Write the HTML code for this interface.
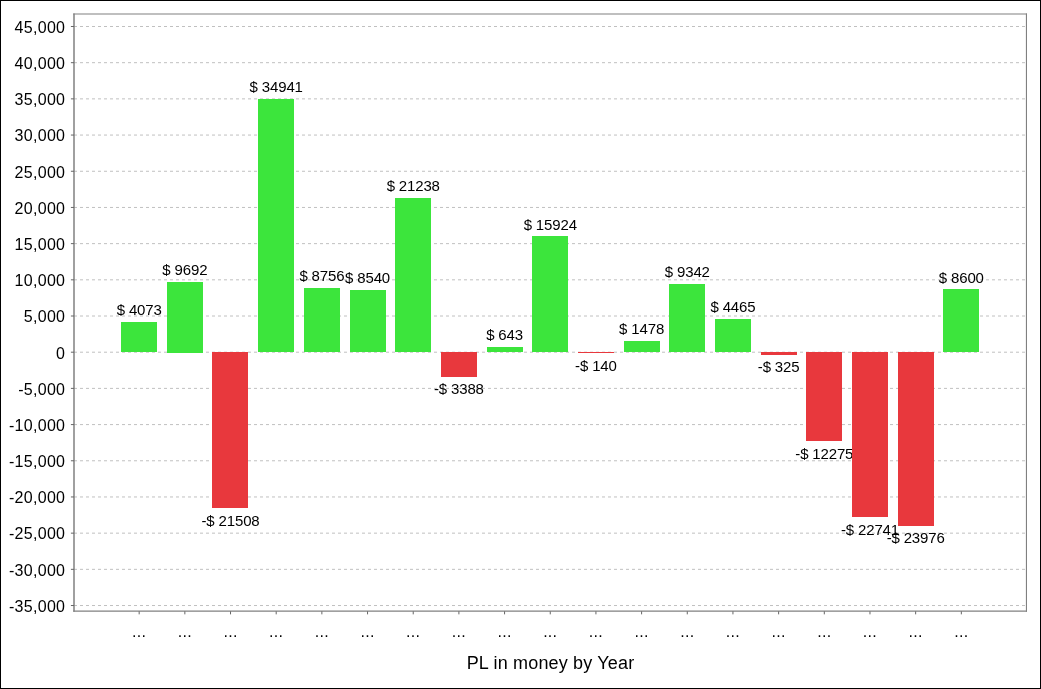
<!DOCTYPE html>
<html><head><meta charset="utf-8"><title>PL in money by Year</title>
<style>
html,body{margin:0;padding:0;background:#fff;}
body{width:1041px;height:689px;overflow:hidden;}
svg{display:block;font-family:"Liberation Sans",sans-serif;fill:#000;}
.yl{font-size:16px;text-anchor:end;letter-spacing:0.3px;}
.xl{font-size:16px;text-anchor:middle;letter-spacing:0.3px;}
.vl{font-size:15px;text-anchor:middle;letter-spacing:-0.15px;}
.tt{font-size:18px;text-anchor:middle;letter-spacing:0.17px;}
</style></head><body>
<svg width="1041" height="689" viewBox="0 0 1041 689">
<rect x="0" y="0" width="1041" height="689" fill="#fff"/>

<g stroke="#c0c0c0" stroke-width="1" stroke-dasharray="3,3" fill="none">
<line x1="74.0" y1="605.53" x2="1026.35" y2="605.53"/>
<line x1="74.0" y1="569.34" x2="1026.35" y2="569.34"/>
<line x1="74.0" y1="533.15" x2="1026.35" y2="533.15"/>
<line x1="74.0" y1="496.96" x2="1026.35" y2="496.96"/>
<line x1="74.0" y1="460.77" x2="1026.35" y2="460.77"/>
<line x1="74.0" y1="424.58" x2="1026.35" y2="424.58"/>
<line x1="74.0" y1="388.39" x2="1026.35" y2="388.39"/>
<line x1="74.0" y1="352.20" x2="1026.35" y2="352.20"/>
<line x1="74.0" y1="316.01" x2="1026.35" y2="316.01"/>
<line x1="74.0" y1="279.82" x2="1026.35" y2="279.82"/>
<line x1="74.0" y1="243.63" x2="1026.35" y2="243.63"/>
<line x1="74.0" y1="207.44" x2="1026.35" y2="207.44"/>
<line x1="74.0" y1="171.25" x2="1026.35" y2="171.25"/>
<line x1="74.0" y1="135.06" x2="1026.35" y2="135.06"/>
<line x1="74.0" y1="98.87" x2="1026.35" y2="98.87"/>
<line x1="74.0" y1="62.68" x2="1026.35" y2="62.68"/>
<line x1="74.0" y1="26.49" x2="1026.35" y2="26.49"/>
</g>
<rect shape-rendering="crispEdges" x="121" y="322" width="36" height="30" fill="#3ce53c"/>
<text class="vl" x="139.17" y="315.32">$ 4073</text>
<rect shape-rendering="crispEdges" x="167" y="282" width="36" height="71" fill="#3ce53c"/>
<text class="vl" x="184.85" y="274.65">$ 9692</text>
<rect shape-rendering="crispEdges" x="212" y="352" width="36" height="156" fill="#e8383d"/>
<text class="vl" x="230.52" y="525.57">-$ 21508</text>
<rect shape-rendering="crispEdges" x="258" y="99" width="36" height="253" fill="#3ce53c"/>
<text class="vl" x="276.20" y="91.90">$ 34941</text>
<rect shape-rendering="crispEdges" x="304" y="288" width="36" height="64" fill="#3ce53c"/>
<text class="vl" x="321.87" y="281.42">$ 8756</text>
<rect shape-rendering="crispEdges" x="350" y="290" width="36" height="62" fill="#3ce53c"/>
<text class="vl" x="367.55" y="282.99">$ 8540</text>
<rect shape-rendering="crispEdges" x="395" y="198" width="36" height="154" fill="#3ce53c"/>
<text class="vl" x="413.22" y="191.08">$ 21238</text>
<rect shape-rendering="crispEdges" x="441" y="352" width="36" height="25" fill="#e8383d"/>
<text class="vl" x="458.90" y="394.42">-$ 3388</text>
<rect shape-rendering="crispEdges" x="487" y="347" width="36" height="5" fill="#3ce53c"/>
<text class="vl" x="504.57" y="340.15">$ 643</text>
<rect shape-rendering="crispEdges" x="532" y="236" width="36" height="116" fill="#3ce53c"/>
<text class="vl" x="550.25" y="229.54">$ 15924</text>
<rect shape-rendering="crispEdges" x="578" y="352" width="36" height="1" fill="#e8383d"/>
<text class="vl" x="595.93" y="370.91">-$ 140</text>
<rect shape-rendering="crispEdges" x="624" y="341" width="36" height="11" fill="#3ce53c"/>
<text class="vl" x="641.60" y="334.10">$ 1478</text>
<rect shape-rendering="crispEdges" x="669" y="284" width="36" height="68" fill="#3ce53c"/>
<text class="vl" x="687.28" y="277.18">$ 9342</text>
<rect shape-rendering="crispEdges" x="715" y="319" width="36" height="33" fill="#3ce53c"/>
<text class="vl" x="732.95" y="312.48">$ 4465</text>
<rect shape-rendering="crispEdges" x="761" y="352" width="36" height="3" fill="#e8383d"/>
<text class="vl" x="778.63" y="372.25">-$ 325</text>
<rect shape-rendering="crispEdges" x="806" y="352" width="36" height="89" fill="#e8383d"/>
<text class="vl" x="824.30" y="458.75">-$ 12275</text>
<rect shape-rendering="crispEdges" x="852" y="352" width="36" height="165" fill="#e8383d"/>
<text class="vl" x="869.98" y="534.50">-$ 22741</text>
<rect shape-rendering="crispEdges" x="898" y="352" width="36" height="174" fill="#e8383d"/>
<text class="vl" x="915.65" y="543.44">-$ 23976</text>
<rect shape-rendering="crispEdges" x="943" y="289" width="36" height="63" fill="#3ce53c"/>
<text class="vl" x="961.33" y="282.55">$ 8600</text>
<g stroke="#808080" fill="none">
<line x1="73.25" y1="14" x2="1027" y2="14" stroke-width="1.15"/>
<line x1="74" y1="13.4" x2="74" y2="611.75" stroke-width="1.5"/>
<line x1="1026.45" y1="13.4" x2="1026.45" y2="611.75" stroke-width="1.1"/>
<line x1="73.25" y1="611.13" x2="1027" y2="611.13" stroke-width="1.26"/>
</g>
<g stroke="#666666" stroke-width="1" fill="none">
<line x1="70.9" y1="605.53" x2="74.0" y2="605.53"/>
<line x1="70.9" y1="569.34" x2="74.0" y2="569.34"/>
<line x1="70.9" y1="533.15" x2="74.0" y2="533.15"/>
<line x1="70.9" y1="496.96" x2="74.0" y2="496.96"/>
<line x1="70.9" y1="460.77" x2="74.0" y2="460.77"/>
<line x1="70.9" y1="424.58" x2="74.0" y2="424.58"/>
<line x1="70.9" y1="388.39" x2="74.0" y2="388.39"/>
<line x1="70.9" y1="352.20" x2="74.0" y2="352.20"/>
<line x1="70.9" y1="316.01" x2="74.0" y2="316.01"/>
<line x1="70.9" y1="279.82" x2="74.0" y2="279.82"/>
<line x1="70.9" y1="243.63" x2="74.0" y2="243.63"/>
<line x1="70.9" y1="207.44" x2="74.0" y2="207.44"/>
<line x1="70.9" y1="171.25" x2="74.0" y2="171.25"/>
<line x1="70.9" y1="135.06" x2="74.0" y2="135.06"/>
<line x1="70.9" y1="98.87" x2="74.0" y2="98.87"/>
<line x1="70.9" y1="62.68" x2="74.0" y2="62.68"/>
<line x1="70.9" y1="26.49" x2="74.0" y2="26.49"/>
<line x1="139.17" y1="611.35" x2="139.17" y2="614.35"/>
<line x1="184.85" y1="611.35" x2="184.85" y2="614.35"/>
<line x1="230.52" y1="611.35" x2="230.52" y2="614.35"/>
<line x1="276.20" y1="611.35" x2="276.20" y2="614.35"/>
<line x1="321.87" y1="611.35" x2="321.87" y2="614.35"/>
<line x1="367.55" y1="611.35" x2="367.55" y2="614.35"/>
<line x1="413.22" y1="611.35" x2="413.22" y2="614.35"/>
<line x1="458.90" y1="611.35" x2="458.90" y2="614.35"/>
<line x1="504.57" y1="611.35" x2="504.57" y2="614.35"/>
<line x1="550.25" y1="611.35" x2="550.25" y2="614.35"/>
<line x1="595.93" y1="611.35" x2="595.93" y2="614.35"/>
<line x1="641.60" y1="611.35" x2="641.60" y2="614.35"/>
<line x1="687.28" y1="611.35" x2="687.28" y2="614.35"/>
<line x1="732.95" y1="611.35" x2="732.95" y2="614.35"/>
<line x1="778.63" y1="611.35" x2="778.63" y2="614.35"/>
<line x1="824.30" y1="611.35" x2="824.30" y2="614.35"/>
<line x1="869.98" y1="611.35" x2="869.98" y2="614.35"/>
<line x1="915.65" y1="611.35" x2="915.65" y2="614.35"/>
<line x1="961.33" y1="611.35" x2="961.33" y2="614.35"/>
</g>
<text class="yl" x="65.3" y="611.83">-35,000</text>
<text class="yl" x="65.3" y="575.64">-30,000</text>
<text class="yl" x="65.3" y="539.45">-25,000</text>
<text class="yl" x="65.3" y="503.26">-20,000</text>
<text class="yl" x="65.3" y="467.07">-15,000</text>
<text class="yl" x="65.3" y="430.88">-10,000</text>
<text class="yl" x="65.3" y="394.69">-5,000</text>
<text class="yl" x="65.3" y="358.50">0</text>
<text class="yl" x="65.3" y="322.31">5,000</text>
<text class="yl" x="65.3" y="286.12">10,000</text>
<text class="yl" x="65.3" y="249.93">15,000</text>
<text class="yl" x="65.3" y="213.74">20,000</text>
<text class="yl" x="65.3" y="177.55">25,000</text>
<text class="yl" x="65.3" y="141.36">30,000</text>
<text class="yl" x="65.3" y="105.17">35,000</text>
<text class="yl" x="65.3" y="68.98">40,000</text>
<text class="yl" x="65.3" y="32.79">45,000</text>
<text class="xl" x="139.17" y="636.7">...</text>
<text class="xl" x="184.85" y="636.7">...</text>
<text class="xl" x="230.52" y="636.7">...</text>
<text class="xl" x="276.20" y="636.7">...</text>
<text class="xl" x="321.87" y="636.7">...</text>
<text class="xl" x="367.55" y="636.7">...</text>
<text class="xl" x="413.22" y="636.7">...</text>
<text class="xl" x="458.90" y="636.7">...</text>
<text class="xl" x="504.57" y="636.7">...</text>
<text class="xl" x="550.25" y="636.7">...</text>
<text class="xl" x="595.93" y="636.7">...</text>
<text class="xl" x="641.60" y="636.7">...</text>
<text class="xl" x="687.28" y="636.7">...</text>
<text class="xl" x="732.95" y="636.7">...</text>
<text class="xl" x="778.63" y="636.7">...</text>
<text class="xl" x="824.30" y="636.7">...</text>
<text class="xl" x="869.98" y="636.7">...</text>
<text class="xl" x="915.65" y="636.7">...</text>
<text class="xl" x="961.33" y="636.7">...</text>
<text class="tt" x="550.5" y="668.7">PL in money by Year</text>
<rect x="0.5" y="0.5" width="1040" height="688" fill="none" stroke="#000" stroke-width="1"/>
</svg></body></html>
